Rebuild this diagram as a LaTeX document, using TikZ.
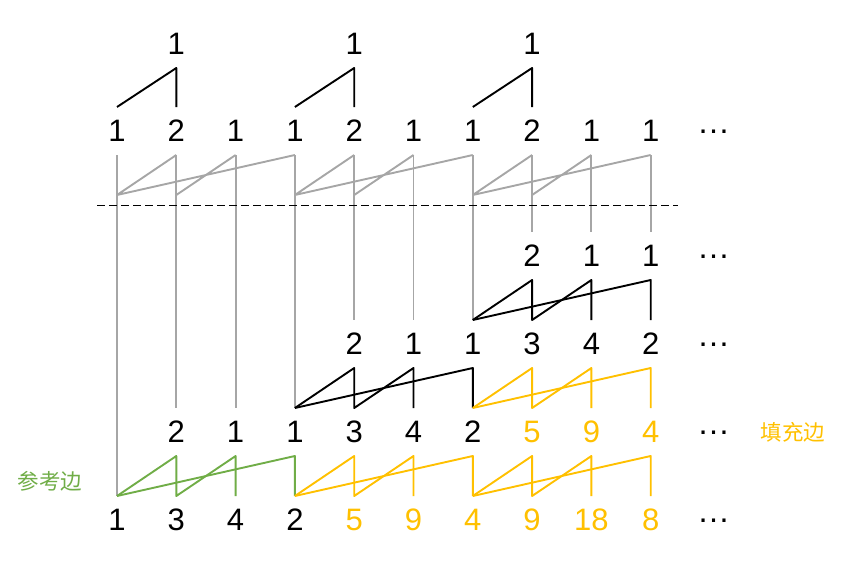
\documentclass[tikz,border=0pt]{standalone}
\usepackage{fontspec}
\setmainfont{Liberation Sans}
\newfontfamily\cjk{Noto Sans CJK SC}
\usepackage{tikz}
\usetikzlibrary{positioning}
\definecolor{fillc}{HTML}{FFC000}
\definecolor{refc}{HTML}{70AD47}
\definecolor{oldc}{HTML}{A6A6A6}
\newcommand{\more}{\vphantom{1}\raisebox{8.6pt}{\fontsize{33}{33}\selectfont …}}
\tikzstyle{num} = [minimum width=40pt, minimum height=48pt, inner sep=0pt, outer sep=0pt, font=\fontsize{31}{31}\selectfont]
\tikzstyle{numy} = [num, text=fillc]
\tikzstyle{dots} = [num]
\tikzstyle{tag} = [inner sep=0pt, font=\cjk\fontsize{21.5}{21.5}\selectfont]
\tikzstyle{link} = [line width=1.9pt, line join=round]
\tikzstyle{oldlink} = [link, draw=oldc]
\tikzstyle{newlink} = [link, draw=black]
\tikzstyle{filllink} = [link, draw=fillc]
\tikzstyle{reflink} = [link, draw=refc]
\tikzstyle{cut} = [line width=0.9pt, dash pattern=on 8pt off 4pt]
\begin{document}
\begin{tikzpicture}[x=1pt, y=-1pt, node distance=40pt and 19.3pt]
      \useasboundingbox (0,0) rectangle (843,562);
      \node (r5c0) [num] at (117,520) {1};
      \node (r5c1) [num, right=of r5c0] {3};
      \node (r5c2) [num, right=of r5c1] {4};
      \node (r5c3) [num, right=of r5c2] {2};
      \node (r5c4) [numy, right=of r5c3] {5};
      \node (r5c5) [numy, right=of r5c4] {9};
      \node (r5c6) [numy, right=of r5c5] {4};
      \node (r5c7) [numy, right=of r5c6] {9};
      \node (r5c8) [numy, right=of r5c7] {18};
      \node (r5c9) [numy, right=of r5c8] {8};
      \node (r5d) [dots, right=23pt of r5c9] {\more};
      \node (r4c1) [num, above=of r5c1] {2};
      \node (r4c2) [num, right=of r4c1] {1};
      \node (r4c3) [num, right=of r4c2] {1};
      \node (r4c4) [num, right=of r4c3] {3};
      \node (r4c5) [num, right=of r4c4] {4};
      \node (r4c6) [num, right=of r4c5] {2};
      \node (r4c7) [numy, right=of r4c6] {5};
      \node (r4c8) [numy, right=of r4c7] {9};
      \node (r4c9) [numy, right=of r4c8] {4};
      \node (r4d) [dots, above=of r5d] {\more};
      \node (r3c4) [num, above=of r4c4] {2};
      \node (r3c5) [num, right=of r3c4] {1};
      \node (r3c6) [num, right=of r3c5] {1};
      \node (r3c7) [num, right=of r3c6] {3};
      \node (r3c8) [num, right=of r3c7] {4};
      \node (r3c9) [num, right=of r3c8] {2};
      \node (r3d) [dots, above=of r4d] {\more};
      \node (r2c7) [num, above=of r3c7] {2};
      \node (r2c8) [num, right=of r2c7] {1};
      \node (r2c9) [num, right=of r2c8] {1};
      \node (r2d) [dots, above=of r3d] {\more};
      \node (r1c0) [num] at (117,131) {1};
      \node (r1c1) [num, right=of r1c0] {2};
      \node (r1c2) [num, right=of r1c1] {1};
      \node (r1c3) [num, right=of r1c2] {1};
      \node (r1c4) [num, right=of r1c3] {2};
      \node (r1c5) [num, right=of r1c4] {1};
      \node (r1c6) [num, right=of r1c5] {1};
      \node (r1c7) [num, right=of r1c6] {2};
      \node (r1c8) [num, right=of r1c7] {1};
      \node (r1c9) [num, right=of r1c8] {1};
      \node (r1d) [dots, right=23pt of r1c9] {\more};
      \node (r0c1) [num, above=39pt of r1c1] {1};
      \node (r0c4) [num, above=39pt of r1c4] {1};
      \node (r0c7) [num, above=39pt of r1c7] {1};
      \node (filltag) [tag, text=fillc] at (793,432) {填充边};
      \node (reftag) [tag, text=refc] at (50,481) {参考边};
      \coordinate [below=40pt of r1c0.south] (b0);
      \coordinate [below=40pt of r1c1.south] (b1);
      \coordinate [below=40pt of r1c3.south] (b3);
      \coordinate [below=40pt of r1c4.south] (b4);
      \coordinate [below=40pt of r1c6.south] (b6);
      \coordinate [below=40pt of r1c7.south] (b7);
      \coordinate (cutl) at (97,205);
      \coordinate (cutr) at (678,205);
      \draw [oldlink] (r1c0.south) -- (r5c0.north);
      \draw [oldlink] (r1c1.south) -- (r4c1.north);
      \draw [oldlink] (r1c2.south) -- (r4c2.north);
      \draw [oldlink] (r1c3.south) -- (r4c3.north);
      \draw [oldlink] (r1c4.south) -- (r3c4.north);
      \draw [oldlink] (r1c5.south) -- (r3c5.north);
      \draw [oldlink] (r1c6.south) -- (r3c6.north);
      \draw [oldlink] (r1c7.south) -- (r2c7.north);
      \draw [oldlink] (r1c8.south) -- (r2c8.north);
      \draw [oldlink] (r1c9.south) -- (r2c9.north);
      \draw [oldlink] (b0) -- (r1c1.south) (b1) -- (r1c2.south) (b0) -- (r1c3.south);
      \draw [oldlink] (b3) -- (r1c4.south) (b4) -- (r1c5.south) (b3) -- (r1c6.south);
      \draw [oldlink] (b6) -- (r1c7.south) (b7) -- (r1c8.south) (b6) -- (r1c9.south);
      \draw [cut] (cutl) -- (cutr);
      \draw [newlink] (r1c0.north) -- (r0c1.south) -- (r1c1.north);
      \draw [newlink] (r1c3.north) -- (r0c4.south) -- (r1c4.north);
      \draw [newlink] (r1c6.north) -- (r0c7.south) -- (r1c7.north);
      \draw [newlink] (r3c6.north) -- (r2c7.south) -- (r3c7.north) -- (r2c8.south) -- (r3c8.north);
      \draw [newlink] (r3c6.north) -- (r2c9.south) -- (r3c9.north);
      \draw [newlink] (r4c3.north) -- (r3c4.south) -- (r4c4.north) -- (r3c5.south) -- (r4c5.north);
      \draw [newlink] (r4c3.north) -- (r3c6.south) -- (r4c6.north);
      \draw [filllink] (r4c6.north) -- (r3c7.south) -- (r4c7.north) -- (r3c8.south) -- (r4c8.north);
      \draw [filllink] (r4c6.north) -- (r3c9.south) -- (r4c9.north);
      \draw [reflink] (r5c0.north) -- (r4c1.south) -- (r5c1.north) -- (r4c2.south) -- (r5c2.north);
      \draw [reflink] (r5c0.north) -- (r4c3.south) -- (r5c3.north);
      \draw [filllink] (r5c3.north) -- (r4c4.south) -- (r5c4.north) -- (r4c5.south) -- (r5c5.north);
      \draw [filllink] (r5c3.north) -- (r4c6.south) -- (r5c6.north);
      \draw [filllink] (r5c6.north) -- (r4c7.south) -- (r5c7.north) -- (r4c8.south) -- (r5c8.north);
      \draw [filllink] (r5c6.north) -- (r4c9.south) -- (r5c9.north);
    \end{tikzpicture}
\end{document}
